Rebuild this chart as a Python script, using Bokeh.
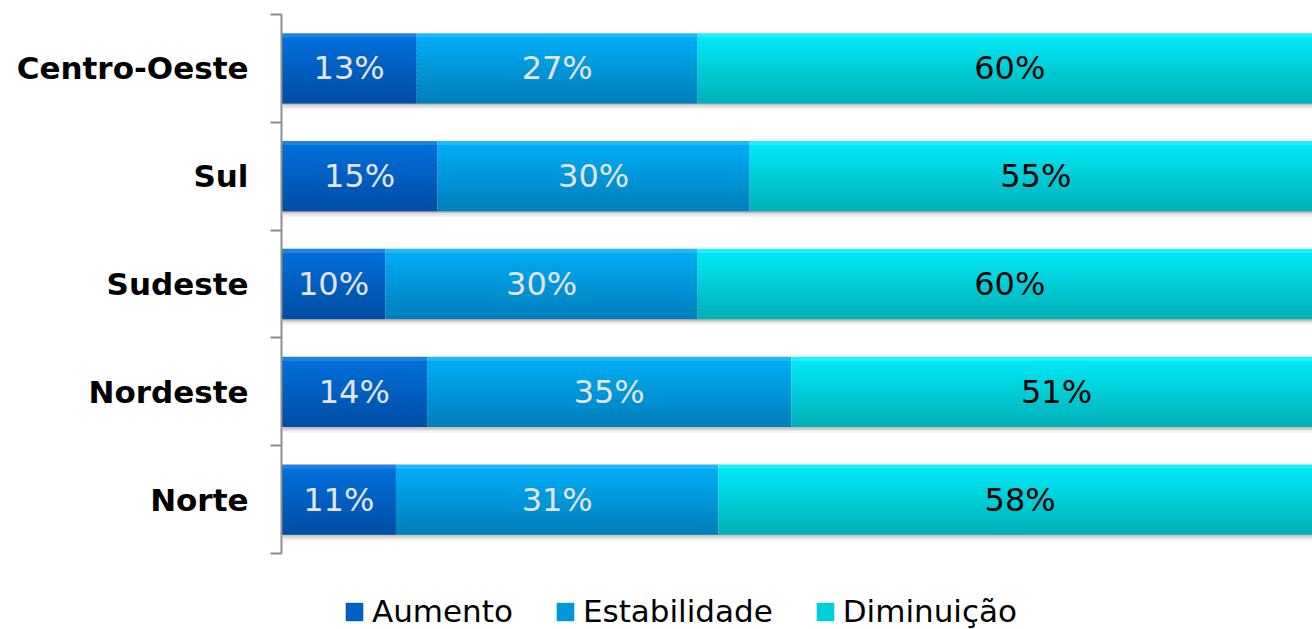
import numpy as np
from bokeh.plotting import figure
from bokeh.layouts import column
from bokeh.models import FixedTicker, Legend, LegendItem, ColumnDataSource, Range1d
from bokeh.embed import file_html
from bokeh.resources import INLINE
from bokeh.core.properties import value

# ---- data ----
regions = ["Norte", "Nordeste", "Sudeste", "Sul", "Centro-Oeste"]
aumento = [11, 14, 10, 15, 13]
estabilidade = [31, 35, 30, 30, 27]
diminuicao = [58, 51, 60, 55, 60]
series_names = ["Aumento", "Estabilidade", "Diminuição"]

# ---- styles ----
top_colors = ["#0070dc", "#00aef6", "#00eaf6"]
bot_colors = ["#004ea6", "#0080be", "#00b2ba"]
mid_colors = ["#005fc2", "#0098da", "#00ced8"]
label_colors = ["#e4e4e4", "#e4e4e4", "#000000"]

def hex2rgb(h):
    h = h.lstrip("#")
    return np.array([int(h[i:i + 2], 16) for i in (0, 2, 4)], dtype=float)

def mix(c1, c2, t):
    c = hex2rgb(c1) * (1 - t) + hex2rgb(c2) * t
    return "#%02x%02x%02x" % tuple(int(round(v)) for v in c)

idx = np.arange(len(regions), dtype=float)
vals = [np.array(aumento, float), np.array(estabilidade, float), np.array(diminuicao, float)]
lefts = [np.zeros(len(regions)), vals[0], vals[0] + vals[1]]
rights = [vals[0], vals[0] + vals[1], vals[0] + vals[1] + vals[2]]

p = figure(width=1312, height=563,
           x_range=Range1d(0, 99.1), y_range=Range1d(-0.5, 4.5),
           output_backend="svg", toolbar_location=None,
           min_border_left=281, min_border_right=0, min_border_top=14, min_border_bottom=10)
p.outline_line_color = None
p.xgrid.visible = False
p.ygrid.visible = False
p.xaxis.visible = False
p.background_fill_color = "white"
p.border_fill_color = "white"

H = 0.64  # bar thickness in category units
N = 16

# shadow under bars
shadow_cols = ["#a8a8a8", "#c0c0c0", "#d6d6d6", "#e8e8e8", "#f4f4f4"]
sh = 0.012
for k, c in enumerate(shadow_cols):
    ys = idx - H / 2 - (k + 0.5) * sh
    p.hbar(y=ys, left=0.15, right=rights[2], height=sh * 1.1, fill_color=c, line_color=None)

for s in range(3):
    for k in range(N):
        t = k / (N - 1)
        col = mix(top_colors[s], bot_colors[s], t)
        if k == 0:
            col = mix(top_colors[s], "#ffffff", 0.12)
        ys = idx + H / 2 - (k + 0.5) * H / N
        p.hbar(y=ys, left=lefts[s], right=rights[s], height=H / N * 1.3,
               fill_color=col, line_color=None)

# value labels
for s in range(3):
    src = ColumnDataSource(dict(
        x=(lefts[s] + rights[s]) / 2,
        y=idx,
        t=["%d%%" % v for v in vals[s]],
    ))
    p.text(x="x", y="y", text="t", source=src, text_align="center", text_baseline="middle",
           text_font=value("DejaVu Sans"), text_font_size="32px", text_color=label_colors[s])

# y axis with ticks at category boundaries
ax = p.yaxis[0]
ax.ticker = FixedTicker(ticks=list(idx), minor_ticks=list(np.arange(-0.5, 5.0, 1.0)))
ax.major_label_overrides = {i: regions[i] for i in range(len(regions))}
ax.major_tick_out = 0
ax.major_tick_in = 0
ax.minor_tick_out = 11
ax.minor_tick_in = 0
ax.minor_tick_line_color = "#8c8c8c"
ax.minor_tick_line_width = 2
ax.axis_line_color = "#8c8c8c"
ax.axis_line_width = 2
ax.major_label_standoff = 22
ax.major_label_text_font = "DejaVu Sans"
ax.major_label_text_font_style = "bold"
ax.major_label_text_font_size = "31px"
ax.major_label_text_color = "#000000"

# legend strip below the chart
lg = figure(width=1312, height=66, x_range=Range1d(0, 1), y_range=Range1d(0, 1),
            output_backend="svg", toolbar_location=None,
            min_border_left=281, min_border_right=0, min_border_top=0, min_border_bottom=0)
lg.axis.visible = False
lg.grid.visible = False
lg.outline_line_color = None
items = []
for s in range(3):
    r = lg.hbar(y=[-10], left=[0], right=[1], height=1, fill_color=mid_colors[s], line_color=None)
    items.append(LegendItem(label=series_names[s], renderers=[r]))
legend = Legend(items=items, orientation="horizontal", location=(62, 0),
                label_text_font="DejaVu Sans", label_text_font_size="31px",
                label_text_color="#000000", label_standoff=7,
                glyph_width=22, glyph_height=23, spacing=41,
                padding=0, margin=0, border_line_color=None, background_fill_alpha=0)
lg.add_layout(legend, "center")

layout = column(p, lg, spacing=0)
open("out.html", "w").write(file_html(layout, INLINE))
